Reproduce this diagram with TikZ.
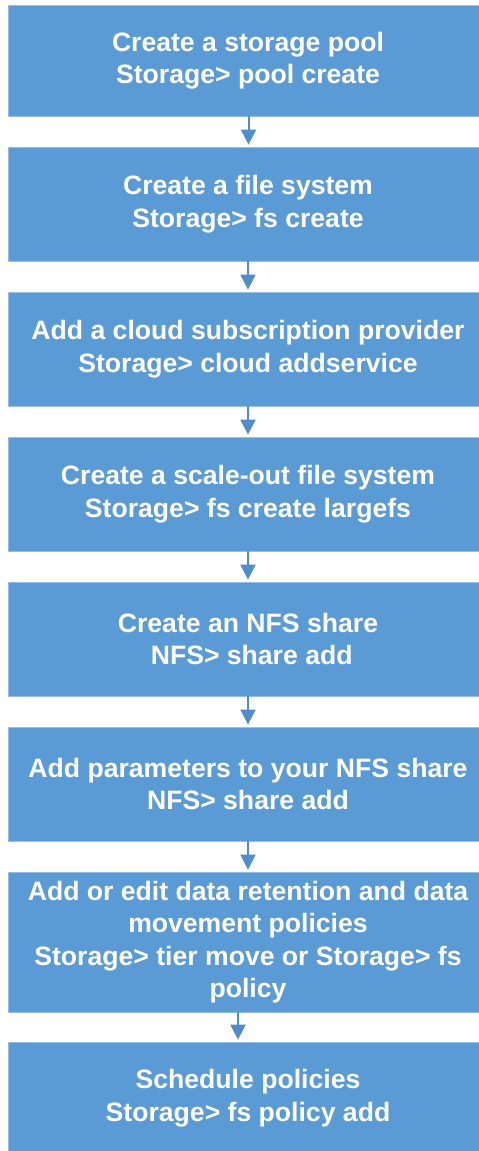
\documentclass[tikz,border=0pt]{standalone}
\usepackage{fontspec}
\setmainfont{Liberation Sans}
\usetikzlibrary{arrows.meta}
\definecolor{boxblue}{RGB}{91,155,213}
\definecolor{boxedge}{RGB}{150,190,230}
\definecolor{arrblue}{RGB}{80,142,202}
\tikzset{
  stepbox/.style={rectangle, fill=boxblue, draw=boxedge, line width=0.8pt,
    minimum width=480pt, text=white, align=center, inner sep=0pt,
    font=\fontsize{26.6}{32.5}\selectfont\bfseries},
  flowarrow/.style={draw=arrblue, fill=arrblue, line width=2pt,
    -{Triangle[length=15pt,width=15pt]}, shorten >=2pt}
}
\begin{document}
\begin{tikzpicture}[x=1pt,y=-1pt]
\useasboundingbox (0,0) rectangle (479,1151);
\clip (0,0) rectangle (479,1151);
\node[stepbox, minimum height=111pt] (b1) at (248,60.5) {Create a storage pool\\Storage> pool create};
\node[stepbox, minimum height=114pt] (b2) at (248,204) {Create a file system\\Storage> fs create};
\node[stepbox, minimum height=114pt] (b3) at (248,349) {Add a cloud subscription provider\\Storage> cloud addservice};
\node[stepbox, minimum height=114pt] (b4) at (248,494) {Create a scale-out file system\\Storage> fs create largefs};
\node[stepbox, minimum height=114pt] (b5) at (248,639) {Create an NFS share\\\ NFS> share add};
\node[stepbox, minimum height=114pt] (b6) at (248,784) {Add parameters to your NFS share\\NFS> share add};
\node[stepbox, minimum height=140pt] (b7) at (248,942) {Add or edit data retention and data\\movement policies\\Storage> tier move or Storage> fs\\policy};
\node[stepbox, minimum height=112pt] (b8) at (248,1098) {Schedule policies\\Storage> fs policy add};
\draw[flowarrow] ([xshift=0.5pt]b1.south) -- ([xshift=0.5pt]b2.north);
\draw[flowarrow] (b2.south) -- (b3.north);
\draw[flowarrow] (b3.south) -- (b4.north);
\draw[flowarrow] (b4.south) -- (b5.north);
\draw[flowarrow] (b5.south) -- (b6.north);
\draw[flowarrow] (b6.south) -- (b7.north);
\draw[flowarrow] ([xshift=-10pt]b7.south) -- ([xshift=-10pt]b8.north);
\end{tikzpicture}
\end{document}
